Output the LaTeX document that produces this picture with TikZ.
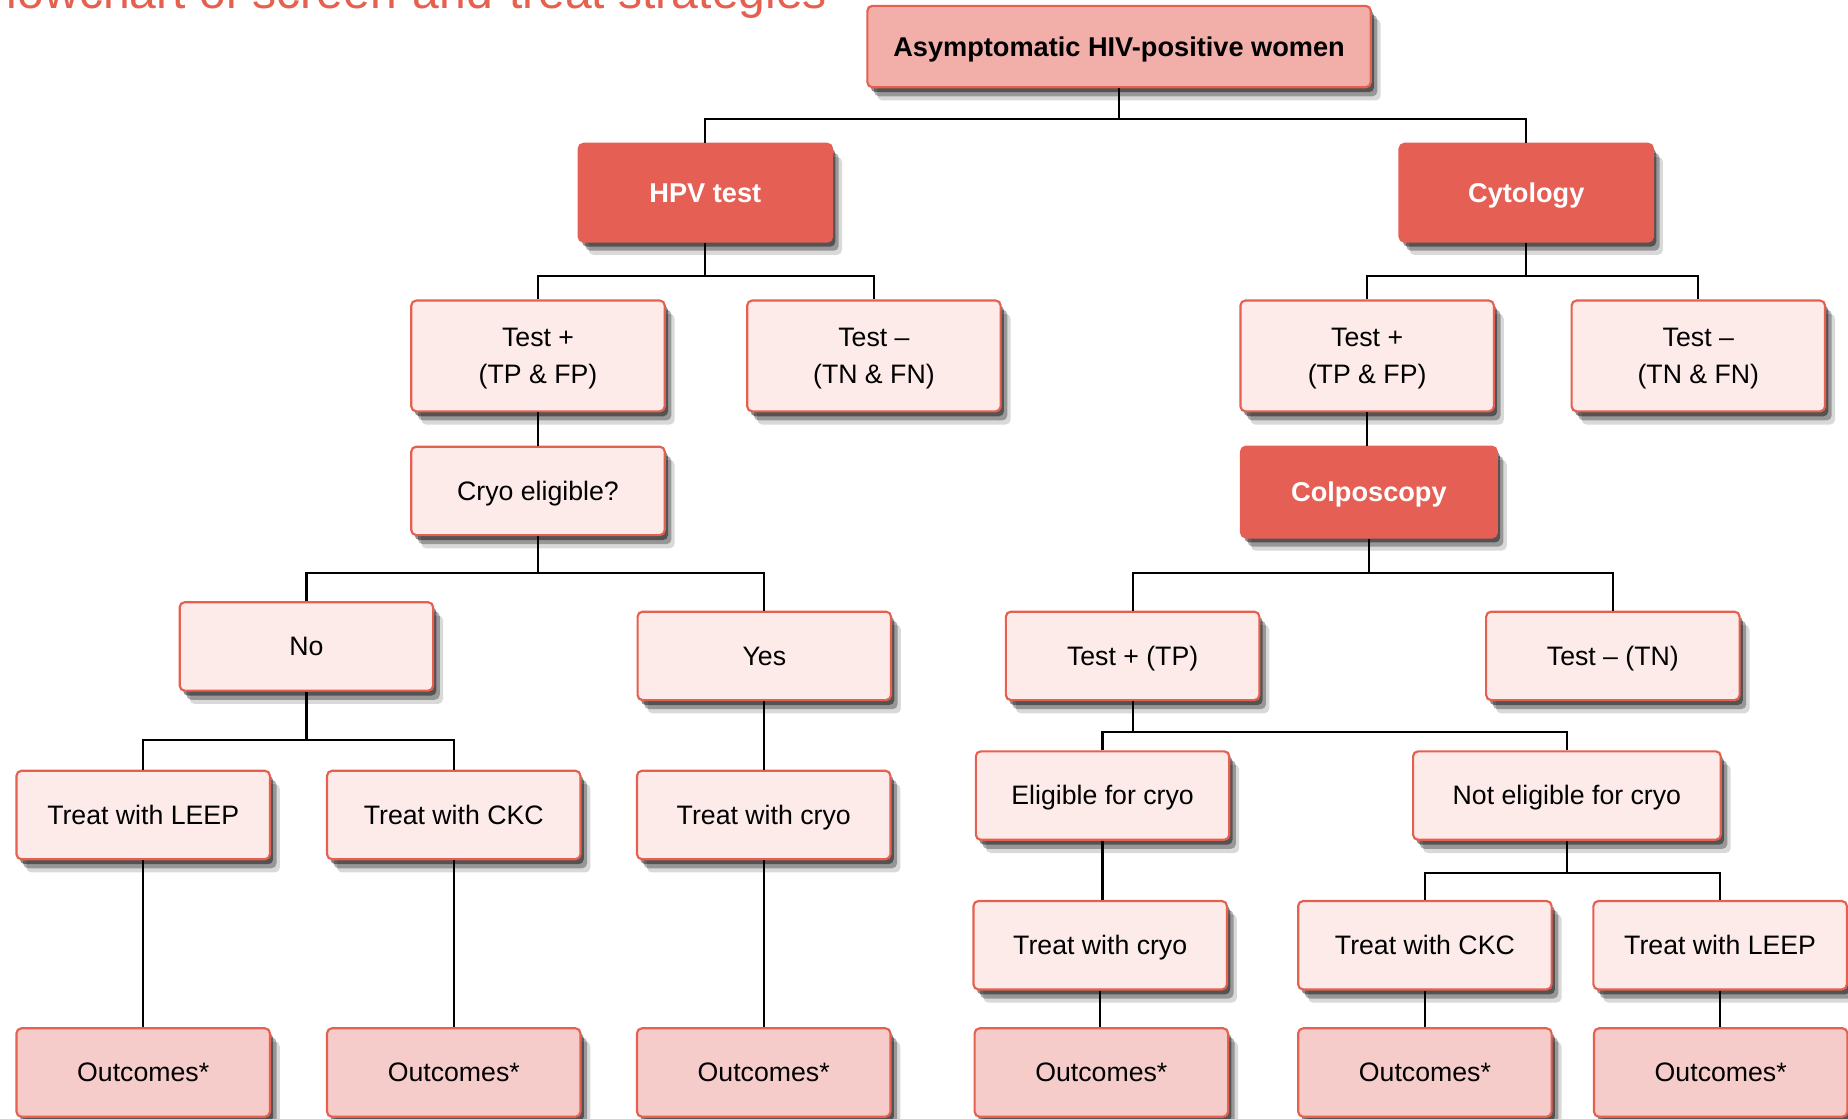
\documentclass[tikz,border=0pt]{standalone}
\usepackage{fontspec}
\setmainfont{Liberation Sans}
\usepackage{tikz}
\usetikzlibrary{shadows}
\definecolor{boxred}{HTML}{E5604F}
\definecolor{darkred}{HTML}{E55F55}
\definecolor{rootpink}{HTML}{F2AFA9}
\definecolor{lightpink}{HTML}{FCEBE9}
\definecolor{outpink}{HTML}{F6CCCA}

\begin{document}
\begin{tikzpicture}[x=0.025cm, y=-0.025cm,
  every node/.style={font=\fontsize{16.1}{22.7}\selectfont, align=center},
  box/.style={draw=boxred, line width=1.3pt, rounded corners=3pt, fill=lightpink,
    minimum width=5.375cm, minimum height=1.875cm, inner sep=0pt,
    text height=11.4pt, text depth=0pt,
    drop shadow={opacity=.45, shadow xshift=2pt, shadow yshift=-3pt, fill=black},
    drop shadow={opacity=.3, shadow xshift=4pt, shadow yshift=-5.5pt, fill=black},
    drop shadow={opacity=.15, shadow xshift=6pt, shadow yshift=-8pt, fill=black}},
  tall/.style={box, minimum height=2.35cm, text height=, text depth=0pt},
  dark/.style={box, draw=darkred, fill=darkred, text=white,
    font=\fontsize{16.4}{22.7}\selectfont\bfseries, minimum height=2.075cm},
  outcome/.style={box, fill=outpink},
  link/.style={line width=1.3pt}]
  \useasboundingbox (0,0) rectangle (1568,949);
  \node (title) at (702,7) [anchor=base east, inner sep=0pt, text=boxred,
    font=\fontsize{29}{34}\selectfont] {Flowchart of screen-and-treat strategies};

  \node (root) at (949.5,39.5) [box, fill=rootpink, minimum width=10.675cm,
    minimum height=1.725cm, font=\fontsize{16.4}{22.7}\selectfont\bfseries] {Asymptomatic HIV-positive women};
  \node (hpv) at (598.5,163.5) [dark] {HPV test};
  \node (cyt) at (1295,163.5) [dark] {Cytology};

  \node (hpvtp) at (456.5,302) [tall] {Test +\\(TP \& FP)};
  \node (hpvtn) at (741.5,302) [tall] {Test –\\(TN \& FN)};
  \node (cyttp) at (1160,302) [tall] {Test +\\(TP \& FP)};
  \node (cyttn) at (1441,302) [tall] {Test –\\(TN \& FN)};

  \node (cryoq) at (456.5,416.5) [box] {Cryo eligible?};
  \node (colpo) at (1161.5,417.5) [dark, minimum width=5.425cm, minimum height=1.925cm] {Colposcopy};

  \node (no) at (260,548.5) [box] {No};
  \node (yes) at (648.5,556.5) [box] {Yes};
  \node (colptp) at (961,556.5) [box] {Test + (TP)};
  \node (colptn) at (1368.5,556.5) [box] {Test – (TN)};

  \node (elig) at (935.5,675) [box] {Eligible for cryo};
  \node (nelig) at (1329.5,675) [box, minimum width=6.525cm] {Not eligible for cryo};

  \node (leepa) at (121.5,691.5) [box] {Treat with LEEP};
  \node (ckca) at (385,691.5) [box] {Treat with CKC};
  \node (cryoa) at (648,691.5) [box] {Treat with cryo};
  \node (cryob) at (933.5,802) [box] {Treat with cryo};
  \node (ckcb) at (1209,802) [box] {Treat with CKC};
  \node (leepb) at (1459.5,802) [box] {Treat with LEEP};

  \node (outa) at (121.5,910) [outcome] {Outcomes*};
  \node (outb) at (385,910) [outcome] {Outcomes*};
  \node (outc) at (648,910) [outcome] {Outcomes*};
  \node (outd) at (934.5,910) [outcome] {Outcomes*};
  \node (oute) at (1209,910) [outcome] {Outcomes*};
  \node (outf) at (1460,910) [outcome] {Outcomes*};

  \draw [link] (root.south) -- ++(0,26) coordinate (rootbus);
  \draw [link] (hpv.north) |- (rootbus) -| (cyt.north);
  \draw [link] (hpv.south) -- ++(0,28) coordinate (hpvbus);
  \draw [link] (hpvtp.north) |- (hpvbus) -| (hpvtn.north);
  \draw [link] (cyt.south) -- ++(0,28) coordinate (cytbus);
  \draw [link] (cyttp.north) |- (cytbus) -| (cyttn.north);
  \draw [link] (hpvtp.south) -- (hpvtp.south |- cryoq.north);
  \draw [link] (cyttp.south) -- (cyttp.south |- colpo.north);
  \draw [link] (cryoq.south) -- ++(0,31) coordinate (cryobus);
  \draw [link] (no.north) |- (cryobus) -| (yes.north);
  \draw [link] (colpo.south) -- ++(0,29) coordinate (colpbus);
  \draw [link] (colptp.north) |- (colpbus) -| (colptn.north);
  \draw [link] (no.south) -- ++(0,41) coordinate (nobus);
  \draw [link] (leepa.north) |- (nobus) -| (ckca.north);
  \draw [link] (yes.south) -- (yes.south |- cryoa.north);
  \draw [link] (colptp.south) -- ++(0,26) coordinate (tpbus);
  \draw [link] (elig.north) |- (tpbus) -| (nelig.north);
  \draw [link] (elig.south) -- (elig.south |- cryob.north);
  \draw [link] (nelig.south) -- ++(0,27) coordinate (neligbus);
  \draw [link] (ckcb.north) |- (neligbus) -| (leepb.north);
  \draw [link] (leepa.south) -- (leepa.south |- outa.north);
  \draw [link] (ckca.south) -- (ckca.south |- outb.north);
  \draw [link] (cryoa.south) -- (cryoa.south |- outc.north);
  \draw [link] (cryob.south) -- (cryob.south |- outd.north);
  \draw [link] (ckcb.south) -- (ckcb.south |- oute.north);
  \draw [link] (leepb.south) -- (leepb.south |- outf.north);
\end{tikzpicture}
\end{document}
